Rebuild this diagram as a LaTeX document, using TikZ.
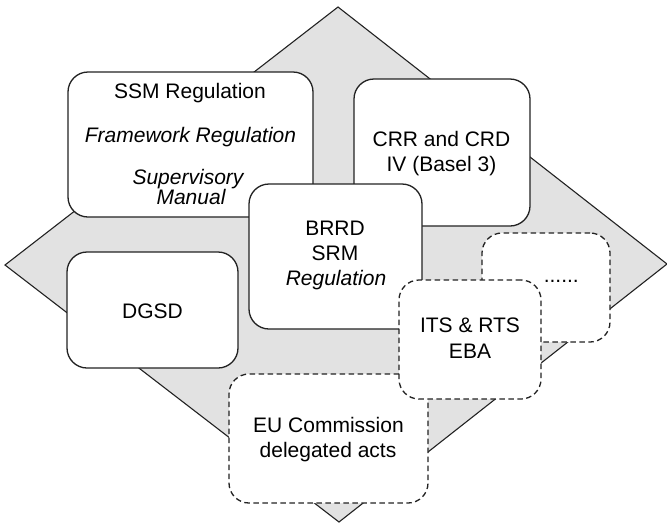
\documentclass[tikz,border=0pt]{standalone}
\usepackage{fontspec}
\setmainfont{Liberation Sans}
\definecolor{linec}{HTML}{222222}
\definecolor{diamondfill}{HTML}{E2E2E2}
\begin{document}
\begin{tikzpicture}[x=1pt,y=-1pt,
  box/.style={draw=linec, line width=1.3pt, fill=white, rounded corners=20pt, inner sep=0pt, outer sep=0pt},
  solidbox/.style={box},
  dashbox/.style={box, dash pattern=on 5.5pt off 3.5pt},
  lbl/.style={anchor=base, inner sep=0pt, text=black, font=\fontsize{21}{25}\selectfont},
  ilbl/.style={lbl, font=\fontsize{21}{25}\selectfont\itshape},
]
\useasboundingbox (0,0) rectangle (667,523);

% background diamond
\coordinate (dt) at (338,7);
\coordinate (dr) at (667,264);
\coordinate (db) at (339,522);
\coordinate (dl) at (5,265);
\draw[draw=linec, line width=1.1pt, fill=diamondfill, line join=miter] (dt) -- (dr) -- (db) -- (dl) -- cycle;

% solid boxes
\node[solidbox, minimum width=245pt, minimum height=145pt] (ssm) at (190.5,144.5) {};
\node[solidbox, minimum width=176pt, minimum height=147pt] (crr) at (442,152.5) {};
\node[solidbox, minimum width=171pt, minimum height=116pt] (dgsd) at (152.5,310) {};
\node[solidbox, minimum width=173pt, minimum height=145pt] (brrd) at (335.5,256.5) {};

% dashed boxes
\node[dashbox, minimum width=199pt, minimum height=129pt] (eu) at (328.5,438.5) {};
\node[dashbox, minimum width=128pt, minimum height=109pt] (more) at (546,287.5) {};
\node[lbl, anchor=base east] (moretxt) at (579,282) {......};
\node[dashbox, minimum width=142pt, minimum height=119pt] (its) at (470,339.5) {};

% labels
\node[lbl]  (ssm1) at (190,98)    {SSM Regulation};
\node[ilbl] (ssm2) at (190.5,142) {Framework Regulation};
\node[ilbl] (ssm3) at (188,184)   {Supervisory};
\node[ilbl] (ssm4) at (191,204.5) {Manual};

\node[lbl] (crr1) at (441.5,146.5) {CRR and CRD};
\node[lbl] (crr2) at (441.5,171)   {IV (Basel 3)};

\node[lbl]  (brrd1) at (335,235)   {BRRD};
\node[lbl]  (brrd2) at (335,260.5) {SRM};
\node[ilbl] (brrd3) at (336,285.5) {Regulation};

\node[lbl] (dgsd1) at (152.5,318) {DGSD};

\node[lbl] (its1) at (470,332.5) {ITS \& RTS};
\node[lbl] (its2) at (470,358)   {EBA};

\node[lbl] (eu1) at (328.5,432) {EU Commission};
\node[lbl] (eu2) at (328,457)   {delegated acts};
\end{tikzpicture}
\end{document}
